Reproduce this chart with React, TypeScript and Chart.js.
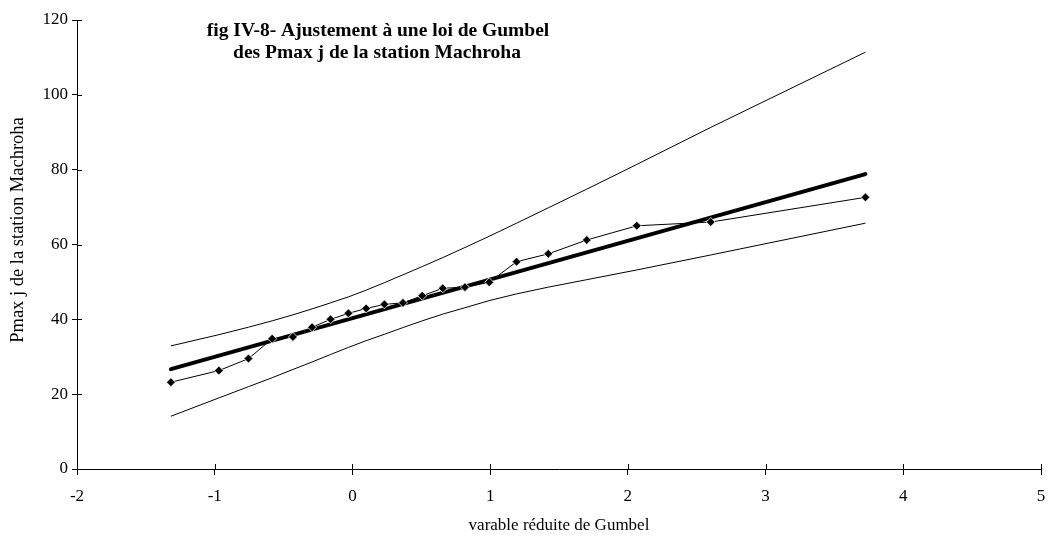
import { useEffect, useRef } from "react";
import { Chart, registerables } from "chart.js";

Chart.register(...registerables);

// Gumbel reduced variate of each observation
const gumbelX = [
  -1.318, -0.97, -0.755, -0.583, -0.432, -0.293, -0.159, -0.029, 0.1, 0.232,
  0.367, 0.507, 0.656, 0.817, 0.993, 1.192, 1.422, 1.702, 2.065, 2.602, 3.725,
];
// Observed Pmax j (mm)
const observed = [
  23.2, 26.3, 29.5, 34.8, 35.3, 37.9, 40.0, 41.6, 42.9, 44.0,
  44.4, 46.3, 48.3, 48.6, 49.9, 55.4, 57.5, 61.2, 65.0, 66.0, 72.6,
];
// Upper confidence band
const upperBand = [
  32.9, 35.9, 37.9, 39.6, 41.2, 42.8, 44.4, 46.0, 47.8, 49.8,
  51.9, 54.1, 56.5, 59.2, 62.2, 65.7, 69.8, 74.8, 81.4, 91.3, 111.4,
];
// Lower confidence band
const lowerBand = [
  14.1, 19.0, 22.0, 24.4, 26.6, 28.6, 30.6, 32.5, 34.3, 36.0,
  37.8, 39.6, 41.4, 43.1, 45.0, 46.8, 48.6, 50.6, 53.2, 57.2, 65.7,
];
// Fitted Gumbel line
const fitX = [-1.318, 3.725];
const fitY = [26.7, 78.8];

const xMin = -2;
const xMax = 5;
const yMin = 0;
const yMax = 120;

const titleLines = [
  "fig IV-8- Ajustement à une loi de Gumbel",
  "des Pmax j de la station Machroha",
];
const xTitle = "varable réduite de Gumbel";
const yTitle = "Pmax j de la station Machroha";

const FONT = "'Liberation Serif', 'Times New Roman', serif";

const pts = (xs: number[], ys: number[]) => xs.map((x, i) => ({ x, y: ys[i] }));

export default function App() {
  const ref = useRef<HTMLCanvasElement | null>(null);

  useEffect(() => {
    if (!ref.current) return;

    const extras = {
      id: "extras",
      afterDraw(chart: any) {
        const ctx = chart.ctx;
        const area = chart.chartArea;
        const xs = chart.scales.x;
        const ys = chart.scales.y;
        ctx.save();
        ctx.strokeStyle = "#000";
        ctx.lineWidth = 1;
        // inner halves of the crossing tick marks
        xs.ticks.forEach((t: any) => {
          const px = Math.round(xs.getPixelForValue(t.value)) + 0.5;
          ctx.beginPath();
          ctx.moveTo(px, area.bottom);
          ctx.lineTo(px, area.bottom - 5);
          ctx.stroke();
        });
        ys.ticks.forEach((t: any) => {
          const py = Math.round(ys.getPixelForValue(t.value)) + 0.5;
          ctx.beginPath();
          ctx.moveTo(area.left, py);
          ctx.lineTo(area.left + 5, py);
          ctx.stroke();
        });
        // floating title
        ctx.fillStyle = "#000";
        ctx.font = `bold 19.5px ${FONT}`;
        ctx.textAlign = "center";
        ctx.textBaseline = "middle";
        ctx.fillText(titleLines[0], 378, 31);
        ctx.fillText(titleLines[1], 377, 53);
        // y-axis title
        ctx.font = `18.5px ${FONT}`;
        ctx.translate(18, 230);
        ctx.rotate(-Math.PI / 2);
        ctx.fillText(yTitle, 0, 0);
        ctx.restore();
      },
    };

    const chart = new Chart(ref.current, {
      type: "scatter",
      data: {
        datasets: [
          {
            label: "observé",
            data: pts(gumbelX, observed),
            showLine: true,
            borderColor: "#000",
            borderWidth: 1,
            pointStyle: "rectRot",
            pointRadius: 4.5,
            pointBackgroundColor: "#000",
            pointBorderColor: "#fff",
            pointBorderWidth: 0.8,
          },
          {
            label: "Gumbel",
            data: pts(fitX, fitY),
            showLine: true,
            borderColor: "#000",
            borderWidth: 4,
            pointRadius: 0,
            borderCapStyle: "round",
          },
          {
            label: "borne sup",
            data: pts(gumbelX, upperBand),
            showLine: true,
            borderColor: "#000",
            borderWidth: 1,
            pointRadius: 0,
          },
          {
            label: "borne inf",
            data: pts(gumbelX, lowerBand),
            showLine: true,
            borderColor: "#000",
            borderWidth: 1,
            pointRadius: 0,
          },
        ],
      },
      options: {
        animation: false,
        responsive: false,
        maintainAspectRatio: false,
        layout: { padding: { top: 20, right: 0, left: 0, bottom: 0 } },
        plugins: {
          legend: { display: false },
          tooltip: { enabled: false },
          title: { display: false },
        },
        scales: {
          x: {
            type: "linear",
            min: xMin,
            max: xMax,
            afterFit: (s: any) => {
              s.height = 71;
              s.paddingRight = 7;
            },
            ticks: {
              stepSize: 1,
              color: "#000",
              font: { family: FONT, size: 17 },
              padding: 11,
              maxRotation: 0,
            },
            grid: {
              drawOnChartArea: false,
              drawTicks: true,
              tickLength: 6,
              color: "#000",
            },
            border: { display: true, color: "#000", width: 1 },
            title: {
              display: true,
              text: xTitle,
              color: "#000",
              font: { family: FONT, size: 17 },
              padding: { top: 0, bottom: 4 },
            },
          },
          y: {
            type: "linear",
            min: yMin,
            max: yMax,
            afterFit: (s: any) => {
              s.width = 77;
            },
            ticks: {
              stepSize: 20,
              color: "#000",
              font: { family: FONT, size: 17 },
              padding: 4,
            },
            grid: {
              drawOnChartArea: false,
              drawTicks: true,
              tickLength: 5,
              color: "#000",
            },
            border: { display: true, color: "#000", width: 1 },
          },
        },
      },
      plugins: [extras],
    } as any);

    return () => chart.destroy();
  }, []);

  return (
    <div style={{ position: "absolute", left: 0, top: 0, width: 1048, height: 540, background: "#fff" }}>
      <canvas ref={ref} width={1048} height={540} style={{ width: 1048, height: 540, display: "block" }} />
    </div>
  );
}
